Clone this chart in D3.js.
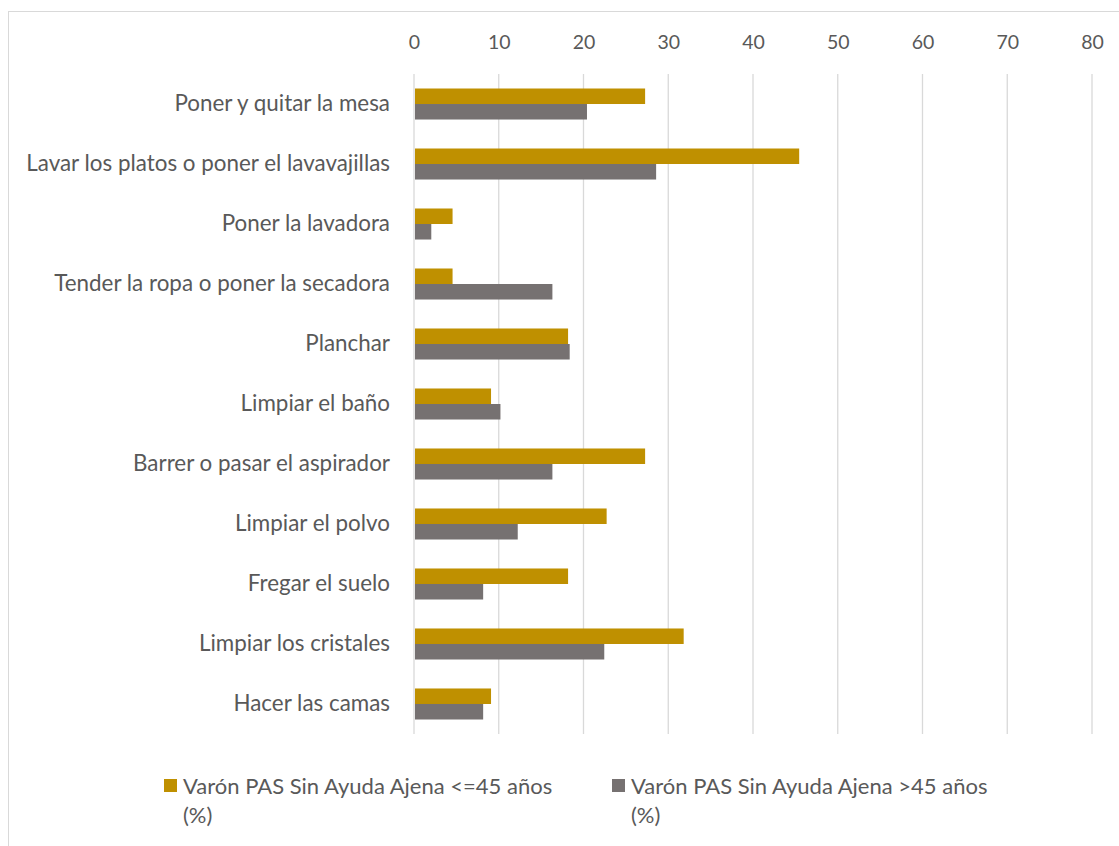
<!DOCTYPE html>
<html>
<head>
<meta charset="utf-8">
<script src="https://cdn.jsdelivr.net/npm/d3@7"></script>
<style>
  html, body { margin: 0; padding: 0; background: #ffffff; }
  svg { display: block; }
  text { font-family: Lato, "Open Sans", sans-serif; fill: #595959; }
</style>
</head>
<body>
<svg id="chart" width="1119" height="846"></svg>
<script>
// Household tasks (categories, top to bottom)
const categories = [
  "Poner y quitar la mesa",
  "Lavar los platos o poner el lavavajillas",
  "Poner la lavadora",
  "Tender la ropa o poner la secadora",
  "Planchar",
  "Limpiar el baño",
  "Barrer o pasar el aspirador",
  "Limpiar el polvo",
  "Fregar el suelo",
  "Limpiar los cristales",
  "Hacer las camas"
];

// Percentage values for each series
const seriesYoung = [27.27, 45.45, 4.55, 4.55, 18.18, 9.09, 27.27, 22.73, 18.18, 31.82, 9.09];
const seriesOld   = [20.41, 28.57, 2.04, 16.33, 18.37, 10.20, 16.33, 12.24, 8.16, 22.45, 8.16];

const seriesNames = [
  "Varón PAS Sin Ayuda Ajena <=45 años (%)",
  "Varón PAS Sin Ayuda Ajena >45 años (%)"
];
const seriesColors = ["#BF9000", "#767171"];

const xTicks = [0, 10, 20, 30, 40, 50, 60, 70, 80];

const svg = d3.select("#chart");

// Outer chart frame
svg.append("rect")
  .attr("x", 8.5).attr("y", 11.5)
  .attr("width", 1200).attr("height", 900)
  .attr("fill", "none")
  .attr("stroke", "#d9d9d9")
  .attr("stroke-width", 1);

const plot = { left: 414, right: 1092, top: 74, bottom: 734 };

const x = d3.scaleLinear().domain([0, 80]).range([plot.left, plot.right]);

const y = d3.scaleBand()
  .domain(categories)
  .range([plot.top, plot.bottom])
  .paddingInner(0.483)
  .paddingOuter(0.2417);

const ySub = d3.scaleBand()
  .domain([0, 1])
  .range([0, y.bandwidth()]);

// Vertical gridlines
svg.append("g")
  .selectAll("line")
  .data(xTicks)
  .join("line")
  .attr("x1", d => x(d)).attr("x2", d => x(d))
  .attr("y1", plot.top).attr("y2", plot.bottom)
  .attr("stroke", "#d9d9d9")
  .attr("stroke-width", 1.3);

// Value axis on top
const xAxis = svg.append("g")
  .attr("transform", `translate(0, 49)`)
  .call(d3.axisTop(x).tickValues(xTicks).tickSize(0).tickPadding(0));
xAxis.select(".domain").remove();
xAxis.selectAll("text")
  .style("font-size", "19.5px")
  .style("font-family", "Lato, sans-serif")
  .attr("fill", "#595959");

// Category axis
const yAxis = svg.append("g")
  .attr("transform", `translate(${plot.left}, 0)`)
  .call(d3.axisLeft(y).tickSize(0).tickPadding(24));
yAxis.select(".domain").remove();
yAxis.selectAll("text")
  .style("font-size", "22.4px")
  .style("font-family", "Lato, sans-serif")
  .attr("fill", "#595959");

// Bars
const rows = categories.map((c, i) => ({ c, vals: [seriesYoung[i], seriesOld[i]] }));
const groups = svg.append("g")
  .selectAll("g")
  .data(rows)
  .join("g")
  .attr("transform", d => `translate(0, ${y(d.c)})`);

groups.selectAll("rect")
  .data(d => d.vals.map((v, s) => ({ v, s })))
  .join("rect")
  .attr("x", x(0) + 1)
  .attr("y", d => ySub(d.s))
  .attr("width", d => x(d.v) - x(0) - 1)
  .attr("height", ySub.bandwidth())
  .attr("fill", d => seriesColors[d.s]);

// Legend
const legendPos = [{ x: 164, y: 779 }, { x: 612, y: 779 }];
const legend = svg.append("g")
  .selectAll("g")
  .data(seriesNames)
  .join("g")
  .attr("transform", (d, i) => `translate(${legendPos[i].x}, ${legendPos[i].y})`);

legend.append("rect")
  .attr("width", 13).attr("height", 13)
  .attr("fill", (d, i) => seriesColors[i]);

legend.append("text")
  .style("font-size", "22px")
  .selectAll("tspan")
  .data(d => [d.replace(" (%)", ""), "(%)"])
  .join("tspan")
  .attr("x", 19)
  .attr("y", (d, i) => 15 + i * 29)
  .text(d => d);
</script>
</body>
</html>
